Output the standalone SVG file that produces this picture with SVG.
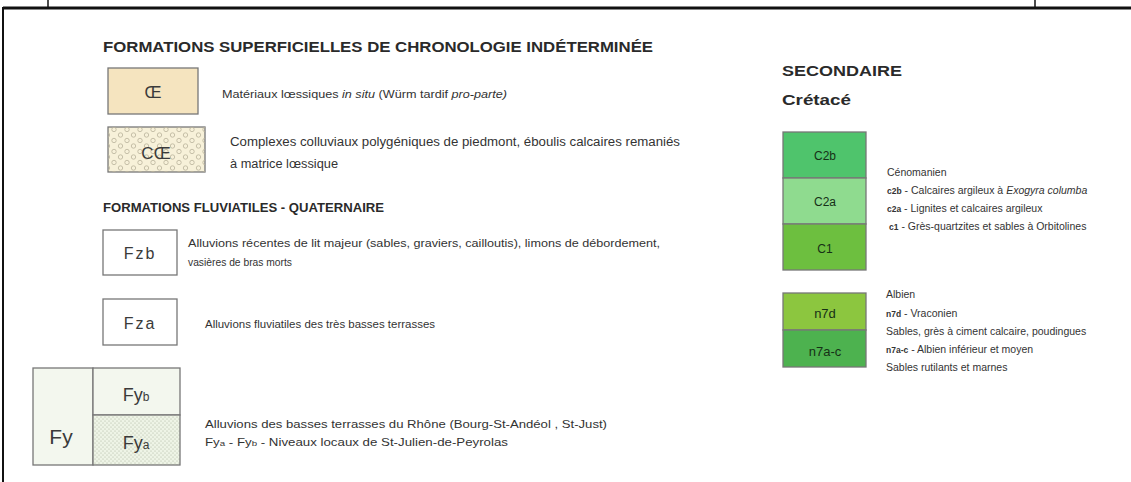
<svg xmlns="http://www.w3.org/2000/svg" width="1131" height="482" viewBox="0 0 1131 482">
<style>
.frame{stroke:#111;fill:none}
.box{stroke:#777;stroke-width:1.3}
.h{font-family:"Liberation Sans",Arial,sans-serif;font-weight:bold;fill:#2a2a2a}
.t{font-family:"Liberation Sans",Arial,sans-serif;fill:#333}
.lbl{font-family:"Liberation Sans",Arial,sans-serif;fill:#3a3a3a;text-anchor:middle}
.g{font-family:"Liberation Sans",Arial,sans-serif;fill:#163016;text-anchor:middle}
.it{font-style:italic}
</style>
<defs>
<pattern id="circ" width="13" height="11" patternUnits="userSpaceOnUse">
<circle cx="3.5" cy="3" r="2.2" fill="none" stroke="#b9b39a" stroke-width="0.8"/>
<circle cx="10" cy="8.5" r="2.2" fill="none" stroke="#b9b39a" stroke-width="0.8"/>
</pattern>
<pattern id="stip" width="4" height="4" patternUnits="userSpaceOnUse">
<rect width="4" height="4" fill="#eef4e6"/>
<circle cx="1" cy="1" r="0.55" fill="#a9b09c"/>
<circle cx="3" cy="3" r="0.55" fill="#a9b09c"/>
</pattern>
</defs>
<rect width="1131" height="482" fill="#ffffff"/>
<g id="frame">
<line class="frame" x1="3" y1="8" x2="1131" y2="8" stroke-width="3"/>
<line class="frame" x1="48" y1="0" x2="48" y2="8" stroke-width="1.5"/>
<line class="frame" x1="1035" y1="0" x2="1035" y2="8" stroke-width="1.5"/>
<line class="frame" x1="3" y1="7" x2="3" y2="482" stroke-width="2"/>
</g>
<g id="heading-superficielles">
<text class="h" x="103" y="52" font-size="14" textLength="550" lengthAdjust="spacingAndGlyphs">FORMATIONS SUPERFICIELLES DE CHRONOLOGIE INDÉTERMINÉE</text>
</g>
<g id="node-oe">
<rect class="box" x="108" y="68" width="90" height="46" fill="#f5e4bf"/>
<text class="lbl" x="153" y="98" font-size="17">Œ</text>
<text class="t" x="222" y="98" font-size="10" textLength="285" lengthAdjust="spacingAndGlyphs">Matériaux lœssiques <tspan class="it">in situ</tspan> (Würm tardif <tspan class="it">pro-parte)</tspan></text>
</g>
<g id="node-coe">
<rect class="box" x="108" y="127" width="97" height="45" fill="#f7f1d9"/>
<rect x="108" y="127" width="97" height="45" fill="url(#circ)"/>
<text class="lbl" x="156" y="159" font-size="17">CŒ</text>
<text class="t" x="230" y="146" font-size="12" textLength="450" lengthAdjust="spacingAndGlyphs">Complexes colluviaux polygéniques de piedmont, éboulis calcaires remaniés</text>
<text class="t" x="230" y="168" font-size="12" textLength="108" lengthAdjust="spacingAndGlyphs">à matrice lœssique</text>
</g>
<g id="heading-fluviatiles">
<text class="h" x="103" y="212" font-size="12" textLength="281" lengthAdjust="spacingAndGlyphs">FORMATIONS FLUVIATILES - QUATERNAIRE</text>
</g>
<g id="node-fzb">
<rect class="box" x="103" y="230" width="74" height="45" fill="#ffffff"/>
<text class="lbl" x="140" y="259" font-size="16" letter-spacing="2">Fzb</text>
<text class="t" x="188" y="247" font-size="11" textLength="472" lengthAdjust="spacingAndGlyphs">Alluvions récentes de lit majeur (sables, graviers, cailloutis), limons de débordement,</text>
<text class="t" x="188" y="266" font-size="11" textLength="104" lengthAdjust="spacingAndGlyphs">vasières de bras morts</text>
</g>
<g id="node-fza">
<rect class="box" x="103" y="299" width="74" height="46" fill="#ffffff"/>
<text class="lbl" x="140" y="329" font-size="16" letter-spacing="2">Fza</text>
<text class="t" x="205" y="328" font-size="10.5" textLength="230" lengthAdjust="spacingAndGlyphs">Alluvions fluviatiles des très basses terrasses</text>
</g>
<g id="node-fy">
<rect class="box" x="33" y="368" width="60" height="97" fill="#f3f7ee"/>
<rect class="box" x="93" y="368" width="87" height="47" fill="#f3f7ee"/>
<rect class="box" x="93" y="415" width="87" height="50" fill="url(#stip)"/>
<text class="lbl" x="61" y="444" font-size="21">Fy</text>
<text class="lbl" x="136" y="401" font-size="18">Fy<tspan font-size="12">b</tspan></text>
<text class="lbl" x="136" y="449" font-size="18">Fy<tspan font-size="12">a</tspan></text>
<text class="t" x="205" y="428" font-size="11" textLength="402" lengthAdjust="spacingAndGlyphs">Alluvions des basses terrasses du Rhône (Bourg-St-Andéol , St-Just)</text>
<text class="t" x="205" y="446" font-size="11" textLength="303" lengthAdjust="spacingAndGlyphs">Fy<tspan font-size="8">a</tspan> - Fy<tspan font-size="8">b</tspan> - Niveaux locaux de St-Julien-de-Peyrolas</text>
</g>
<g id="heading-secondaire">
<text class="h" x="782" y="76" font-size="14" textLength="120" lengthAdjust="spacingAndGlyphs">SECONDAIRE</text>
<text class="h" x="782" y="105" font-size="14" textLength="69" lengthAdjust="spacingAndGlyphs">Crétacé</text>
</g>
<g id="node-cenomanien">
<rect class="box" x="783" y="132" width="83" height="46" fill="#4fc46c"/>
<rect class="box" x="783" y="178" width="83" height="46" fill="#8fdb8f"/>
<rect class="box" x="783" y="224" width="83" height="46" fill="#6dbf3f"/>
<text class="g" x="825" y="160" font-size="12">C2b</text>
<text class="g" x="825" y="206" font-size="12">C2a</text>
<text class="g" x="825" y="253" font-size="12">C1</text>
<text class="t" x="887" y="176" font-size="10.5">Cénomanien</text>
<text class="t" x="887" y="194" font-size="10.5"><tspan font-size="8.5" font-weight="bold">c2b</tspan>  - Calcaires argileux à <tspan class="it">Exogyra columba</tspan></text>
<text class="t" x="887" y="212" font-size="10.5"><tspan font-size="8.5" font-weight="bold">c2a</tspan>  - Lignites et calcaires argileux</text>
<text class="t" x="889" y="230" font-size="10.5"><tspan font-size="8.5" font-weight="bold">c1</tspan> - Grès-quartzites et sables à Orbitolines</text>
</g>
<g id="node-albien">
<rect class="box" x="783" y="293" width="83" height="37" fill="#8cc63f"/>
<rect class="box" x="783" y="330" width="83" height="37" fill="#4db24f"/>
<text class="g" x="825" y="318" font-size="13">n7d</text>
<text class="g" x="825" y="356" font-size="13">n7a-c</text>
<text class="t" x="886" y="298" font-size="10.5">Albien</text>
<text class="t" x="886" y="317" font-size="10.5"><tspan font-size="8.5" font-weight="bold">n7d</tspan> - Vraconien</text>
<text class="t" x="886" y="335" font-size="10.5">Sables, grès à ciment calcaire, poudingues</text>
<text class="t" x="886" y="353" font-size="10.5"><tspan font-size="8.5" font-weight="bold">n7a-c</tspan> - Albien inférieur et moyen</text>
<text class="t" x="886" y="371" font-size="10.5">Sables rutilants et marnes</text>
</g>
</svg>
